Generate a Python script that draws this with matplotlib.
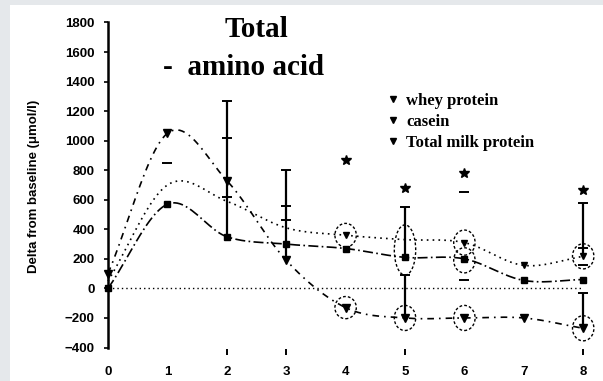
import numpy as np
import matplotlib.pyplot as plt
from matplotlib.lines import Line2D
from matplotlib.patches import Ellipse, Rectangle

hours = [0, 1, 2, 3, 4, 5, 6, 7, 8]
whey = [100, 1050, 730, 190, -130, -200, -200, -200, -270]
casein = [50, 700, 590, 410, 360, 330, 310, 156, 217]
total_milk = [0, 570, 350, 300, 270, 210, 200, 54, 60]

# SD bars: x, from mean, to cap
err_x = [2, 3, 5, 8, 5, 8]
err_from = [350, 190, 210, 217, -200, -270]
err_to = [1270, 800, 550, 576, 90, -30]

# caps of the SD bars hidden behind the curves
cap_x = [1, 2, 2, 3, 3, 6, 6, 8, 8]
cap_y = [847, 1020, 620, 560, 460, 650, 54, 271, 156]

# significance stars
star_x = [4, 5, 6, 8]
star_y = [868, 678, 780, 664]

# circled points
ring_x = [4, 4, 5, 5, 6, 6, 6, 8, 8]
ring_y = [-130, 360, 260, -200, 310, 190, -200, 217, -270]
ring_h = [150, 160, 340, 170, 170, 170, 170, 170, 170]

stub_x = [2, 3, 5, 8]


def smooth(xs, ys, n=24):
    # Catmull-Rom curve through the points
    x = np.asarray(xs, float)
    y = np.asarray(ys, float)
    px = np.concatenate([[2 * x[0] - x[1]], x, [2 * x[-1] - x[-2]]])
    py = np.concatenate([[2 * y[0] - y[1]], y, [2 * y[-1] - y[-2]]])
    t = np.linspace(0, 1, n, endpoint=False)
    outx, outy = [], []
    for i in range(1, len(px) - 2):
        for p, out in ((px, outx), (py, outy)):
            p0, p1, p2, p3 = p[i - 1], p[i], p[i + 1], p[i + 2]
            out.extend(0.5 * (2 * p1 + (-p0 + p2) * t
                              + (2 * p0 - 5 * p1 + 4 * p2 - p3) * t ** 2
                              + (-p0 + 3 * p1 - 3 * p2 + p3) * t ** 3))
    outx.append(x[-1])
    outy.append(y[-1])
    return outx, outy


fig = plt.figure(figsize=(6.03, 3.81), dpi=100, facecolor='#e5e8eb')
fig.add_artist(Rectangle((10 / 603, 0), 1, 376 / 381, transform=fig.transFigure,
                         facecolor='white', edgecolor='none', zorder=-10))
ax = fig.add_axes([0.1693, 0.0724, 0.8274, 0.8764])
ax.set_facecolor('none')

ax.set_xlim(-0.1, 8.3)
ax.set_ylim(-440, 1820)

# zero line
ax.plot([0, 8], [0, 0], color='black', lw=1, linestyle=(0, (1, 2.2)))

sx, sy = smooth(hours, whey)
ax.plot(sx, sy, color='black', lw=1.2, linestyle=(0, (4, 3, 1, 3)))
sx, sy = smooth(hours, casein)
ax.plot(sx, sy, color='black', lw=1.2, linestyle=(0, (1, 2.5)))
sx, sy = smooth(hours, total_milk)
ax.plot(sx, sy, color='black', lw=1.2, linestyle=(0, (6, 2, 1, 2)))

ax.plot(hours, whey, linestyle='none', marker='v', ms=5.5, color='black')
ax.plot(hours, casein, linestyle='none', marker='v', ms=5, color='black',
        markevery=[4, 6, 7, 8])
ax.plot(hours, total_milk, linestyle='none', marker='s', ms=5, color='black')

ax.vlines(err_x, err_from, err_to, color='black', lw=1.6)
ax.plot(err_x, err_to, linestyle='none', marker='_', ms=7, mew=1.4, color='black')
ax.plot(cap_x, cap_y, linestyle='none', marker='_', ms=7, mew=1.4, color='black')

ax.plot(star_x, star_y, linestyle='none', marker='*', ms=7, color='black')

for x, y, h in zip(ring_x, ring_y, ring_h):
    ax.add_patch(Ellipse((x, y), 0.36, h, fill=False, edgecolor='black',
                         lw=1, linestyle=(0, (2, 1.5))))

ax.plot(stub_x, [-430] * len(stub_x), linestyle='none', marker='|', ms=5,
        mew=1.4, color='black', clip_on=False)

for side in ['top', 'right', 'bottom']:
    ax.spines[side].set_visible(False)
ax.spines['left'].set_bounds(-400, 1800)
ax.spines['left'].set_linewidth(1.8)
ax.spines['left'].set_position(('data', 0))

ax.set_yticks(np.arange(-400, 1801, 200))
ax.set_xticks(hours)
ax.tick_params(axis='y', length=3, width=1.2, pad=6.5)
ax.tick_params(axis='x', length=0, pad=9)
for lab in ax.get_xticklabels() + ax.get_yticklabels():
    lab.set_fontfamily('Liberation Sans')
    lab.set_fontweight('bold')
    lab.set_fontsize(9.5)

ax.set_ylabel('Delta from baseline (\u03bcmol/l)', fontfamily='Liberation Sans',
              fontweight='bold', fontsize=9.5)
ax.yaxis.set_label_coords(-0.124, 0.5)

fig.text(256 / 603, 1 - 37 / 381, 'Total', ha='center', va='baseline',
         fontfamily='Liberation Serif', fontweight='bold', fontsize=21)
fig.text(163 / 603, 1 - 75 / 381, '-  amino acid', ha='left', va='baseline',
         fontfamily='Liberation Serif', fontweight='bold', fontsize=21)

handles = [Line2D([], [], linestyle='none', marker='v', ms=4, color='black')
           for _ in range(3)]
leg = ax.legend(handles, ['whey protein', 'casein', 'Total milk protein'],
                loc='upper left', bbox_to_anchor=(0.56, 0.80), frameon=False,
                handlelength=0.6, handletextpad=0.5, labelspacing=0.3,
                borderaxespad=0,
                prop={'family': 'Liberation Serif', 'weight': 'bold', 'size': 12})

fig.savefig('out.png', dpi=100, facecolor=fig.get_facecolor())
